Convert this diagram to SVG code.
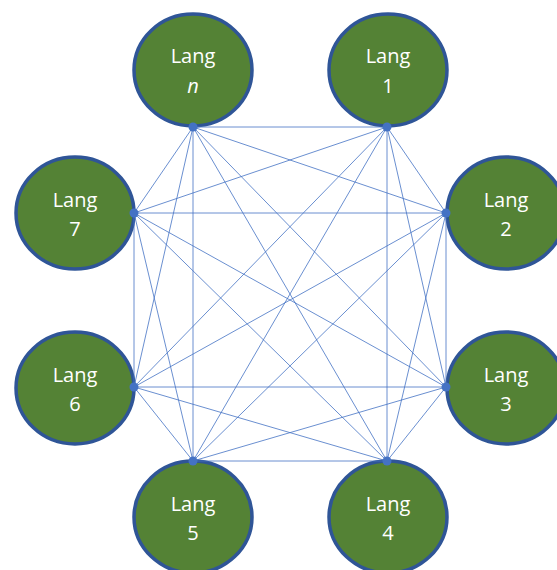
<svg xmlns="http://www.w3.org/2000/svg" width="557" height="570" viewBox="0 0 557 570">
<style>
.node ellipse{fill:#548235;stroke:#2F5597;stroke-width:3.5}
.node text{fill:#fff;font-family:"Open Sans","Noto Sans",sans-serif;font-size:20px;text-anchor:middle}
.edges line{stroke:#4472C4;stroke-width:0.8}
.edges circle{fill:#4472C4}
</style>
<rect width="557" height="570" fill="#fff"/>
<g id="lang-n" class="node"><ellipse cx="193" cy="70" rx="59" ry="56"/><text x="193" y="63">Lang</text><text x="193" y="93" font-style="italic">n</text></g>
<g id="lang-1" class="node"><ellipse cx="388" cy="70" rx="59" ry="56"/><text x="388" y="63">Lang</text><text x="388" y="93">1</text></g>
<g id="lang-2" class="node"><ellipse cx="506" cy="213" rx="59" ry="56"/><text x="506" y="207">Lang</text><text x="506" y="236">2</text></g>
<g id="lang-3" class="node"><ellipse cx="506" cy="388" rx="59" ry="56"/><text x="506" y="382">Lang</text><text x="506" y="411">3</text></g>
<g id="lang-4" class="node"><ellipse cx="388" cy="517" rx="59" ry="56"/><text x="388" y="511">Lang</text><text x="388" y="540">4</text></g>
<g id="lang-5" class="node"><ellipse cx="193" cy="517" rx="59" ry="56"/><text x="193" y="511">Lang</text><text x="193" y="540">5</text></g>
<g id="lang-6" class="node"><ellipse cx="75" cy="388" rx="59" ry="56"/><text x="75" y="382">Lang</text><text x="75" y="411">6</text></g>
<g id="lang-7" class="node"><ellipse cx="75" cy="213" rx="59" ry="56"/><text x="75" y="207">Lang</text><text x="75" y="236">7</text></g>
<g id="connectors" class="edges">
<line x1="193" y1="127" x2="387" y2="127"/>
<line x1="193" y1="127" x2="446" y2="213"/>
<line x1="193" y1="127" x2="446" y2="387"/>
<line x1="193" y1="127" x2="387" y2="461"/>
<line x1="193" y1="127" x2="193" y2="461"/>
<line x1="193" y1="127" x2="134" y2="387"/>
<line x1="193" y1="127" x2="134" y2="213"/>
<line x1="387" y1="127" x2="446" y2="213"/>
<line x1="387" y1="127" x2="446" y2="387"/>
<line x1="387" y1="127" x2="387" y2="461"/>
<line x1="387" y1="127" x2="193" y2="461"/>
<line x1="387" y1="127" x2="134" y2="387"/>
<line x1="387" y1="127" x2="134" y2="213"/>
<line x1="446" y1="213" x2="446" y2="387"/>
<line x1="446" y1="213" x2="387" y2="461"/>
<line x1="446" y1="213" x2="193" y2="461"/>
<line x1="446" y1="213" x2="134" y2="387"/>
<line x1="446" y1="213" x2="134" y2="213"/>
<line x1="446" y1="387" x2="387" y2="461"/>
<line x1="446" y1="387" x2="193" y2="461"/>
<line x1="446" y1="387" x2="134" y2="387"/>
<line x1="446" y1="387" x2="134" y2="213"/>
<line x1="387" y1="461" x2="193" y2="461"/>
<line x1="387" y1="461" x2="134" y2="387"/>
<line x1="387" y1="461" x2="134" y2="213"/>
<line x1="193" y1="461" x2="134" y2="387"/>
<line x1="193" y1="461" x2="134" y2="213"/>
<line x1="134" y1="387" x2="134" y2="213"/>
<circle cx="193" cy="127" r="4.5"/>
<circle cx="387" cy="127" r="4.5"/>
<circle cx="446" cy="213" r="4.5"/>
<circle cx="446" cy="387" r="4.5"/>
<circle cx="387" cy="461" r="4.5"/>
<circle cx="193" cy="461" r="4.5"/>
<circle cx="134" cy="387" r="4.5"/>
<circle cx="134" cy="213" r="4.5"/>
</g>
</svg>
